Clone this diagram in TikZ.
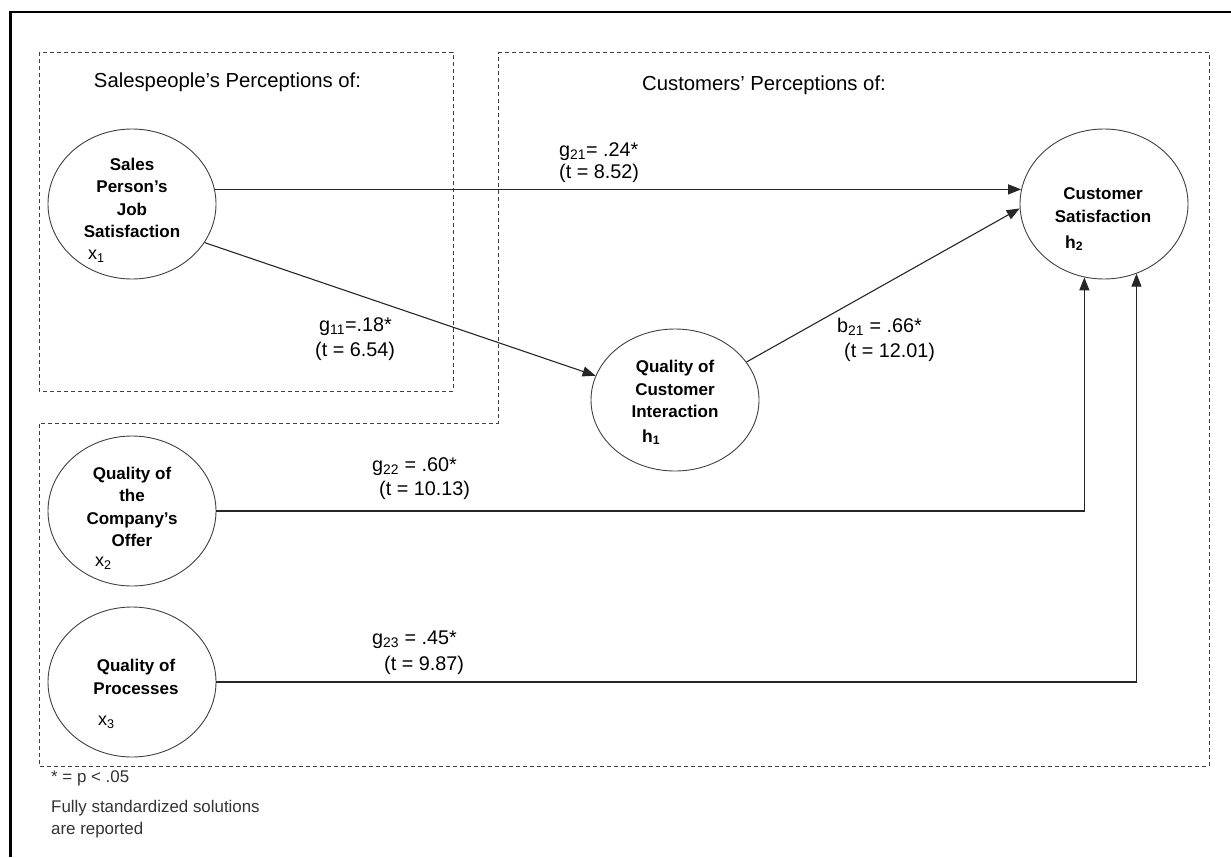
\documentclass[tikz,border=0pt]{standalone}
\usepackage{fontspec}
\setmainfont{Liberation Sans}
\usetikzlibrary{shapes.geometric,arrows.meta}
\begin{document}
\begin{tikzpicture}[x=1pt,y=-1pt,
  latentbox/.style={draw=black!75,line width=0.9pt,ellipse,minimum width=168pt,minimum height=150pt,inner sep=0pt},
  labtext/.style={font=\fontsize{17}{22.3}\selectfont\bfseries,align=center,inner sep=0pt},
  subtxt/.style={font=\fontsize{18}{20}\selectfont,anchor=west,inner sep=0pt},
  subbold/.style={font=\fontsize{17.5}{20}\selectfont\bfseries,anchor=west,inner sep=0pt},
  coeftxt/.style={font=\fontsize{19.8}{22}\selectfont,anchor=west,inner sep=0pt},
  titletxt/.style={font=\fontsize{20.3}{22}\selectfont,inner sep=0pt},
  notetxt/.style={font=\fontsize{16.9}{18}\selectfont,text=black!80,anchor=west,inner sep=0pt},
  groupline/.style={draw=black!75,line width=1pt,dash pattern=on 4pt off 3pt},
  conn/.style={draw=black!85,line width=1.1pt,-{Triangle[length=13pt,width=10pt]}},
]
\useasboundingbox (0,0) rectangle (1231,857);
% outer frame (cut off at right and bottom)
\draw[line width=2.5pt] (10.5,857) -- (10.5,12) -- (1231,12);
% groups
\draw[groupline] (39,52) rectangle (453,391);
\draw[groupline] (498,52) -- (1209,52) -- (1209,766) -- (39,766) -- (39,423) -- (498,423) -- cycle;
% titles
\node[titletxt] (t1) at (227.5,82) {Salespeople’s Perceptions of:};
\node[titletxt] (t2) at (764,85) {Customers’ Perceptions of:};
% latent variables
\node[latentbox] (s1) at (132,204) {};
\node[latentbox,minimum height=142pt] (h1) at (675,400) {};
\node[latentbox] (h2) at (1104,204) {};
\node[latentbox] (x2) at (132,511) {};
\node[latentbox] (x3) at (132,682) {};
% texts in ellipses
\node[labtext] (s1t) at (132,198) {Sales\\Person’s\\Job\\Satisfaction};
\node[subtxt] (s1s) at (88,256) {x\textsubscript{1}};
\node[labtext] (h1t) at (675,389) {Quality of\\Customer\\Interaction};
\node[subbold] (h1s) at (642,437) {h\textsubscript{1}};
\node[labtext] (h2t) at (1103,205) {Customer\\Satisfaction};
\node[subbold] (h2s) at (1065,243) {h\textsubscript{2}};
\node[labtext] (x2t) at (132,507) {Quality of\\the\\Company’s\\Offer};
\node[subtxt] (x2s) at (95,563) {x\textsubscript{2}};
\node[labtext] (x3t) at (136,677) {Quality of\\Processes};
\node[subtxt] (x3s) at (98,722) {x\textsubscript{3}};
% connectors
\draw[conn] (s1.10) -- (h2.170);
\draw[conn] (s1.332) -- (h1.163);
\draw[conn] (h1.28) -- (h2.183);
\draw[conn] (x2.east) -| (h2.255);
\draw[conn] (x3.east) -| (h2.295);
% coefficients
\node[coeftxt] (c21) at (559,152) {g\textsubscript{21}= .24*};
\node[coeftxt] (c21t) at (559,173) {(t = 8.52)};
\node[coeftxt] (c11) at (319,327) {g\textsubscript{11}=.18*};
\node[coeftxt] (c11t) at (315,351) {(t = 6.54)};
\node[coeftxt] (b21) at (837,327) {b\textsubscript{21} = .66*};
\node[coeftxt] (b21t) at (844,352) {(t = 12.01)};
\node[coeftxt] (c22) at (372,467) {g\textsubscript{22} = .60*};
\node[coeftxt] (c22t) at (379,490) {(t = 10.13)};
\node[coeftxt] (c23) at (372,640) {g\textsubscript{23} = .45*};
\node[coeftxt] (c23t) at (384,665) {(t = 9.87)};
% notes
\node[notetxt] (n1) at (51,778) {* = p < .05};
\node[notetxt] (n2) at (51,808) {Fully standardized solutions};
\node[notetxt] (n3) at (51,830) {are reported};
\end{tikzpicture}
\end{document}
